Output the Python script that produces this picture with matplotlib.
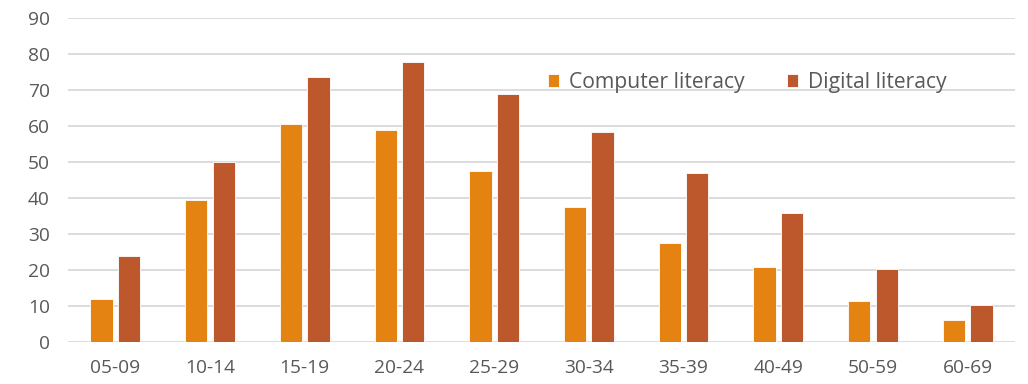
import numpy as np
import matplotlib.pyplot as plt

# Literacy rates by age group
age_groups = ['05-09', '10-14', '15-19', '20-24', '25-29',
              '30-34', '35-39', '40-49', '50-59', '60-69']
computer_literacy = [12.0, 39.4, 60.6, 58.9, 47.6, 37.5, 27.4, 20.9, 11.5, 6.1]
digital_literacy = [23.9, 50.0, 73.7, 77.9, 69.0, 58.2, 47.0, 35.7, 20.4, 10.3]

text_color = '#595959'
plt.rcParams['font.family'] = ['Open Sans', 'DejaVu Sans']

fig = plt.figure(figsize=(10.28, 3.84), dpi=100)
ax = fig.add_axes([68 / 1028, 1 - 342 / 384, (1015 - 68) / 1028, (342 - 18) / 384])

x = np.arange(len(age_groups))
bar_w = 0.235
ax.bar(x - 0.145, computer_literacy, bar_w, color='#E48312',
       edgecolor='white', linewidth=0.6, label='Computer literacy', zorder=3)
ax.bar(x + 0.145, digital_literacy, bar_w, color='#BD582C',
       edgecolor='white', linewidth=0.6, label='Digital literacy', zorder=3)

ax.set_xlim(-0.5, len(age_groups) - 0.5)
ax.set_ylim(0, 90)
ax.set_yticks(range(0, 91, 10))
ax.set_xticks(x)
ax.set_xticklabels(age_groups)

ax.grid(axis='y', color='#D9D9D9', linewidth=1.3, zorder=0)
for side in ['top', 'right', 'left', 'bottom']:
    ax.spines[side].set_visible(False)
ax.tick_params(axis='both', length=0, colors=text_color, labelsize=13.8)
ax.tick_params(axis='x', pad=12)
ax.tick_params(axis='y', pad=13)

leg = ax.legend(loc='center', bbox_to_anchor=(0.717, 0.80), ncol=2,
                frameon=False, fontsize=15.2, handlelength=0.55, handleheight=0.55,
                handletextpad=0.45, columnspacing=2.0)
for t in leg.get_texts():
    t.set_color(text_color)

fig.savefig('out.png', dpi=100)
